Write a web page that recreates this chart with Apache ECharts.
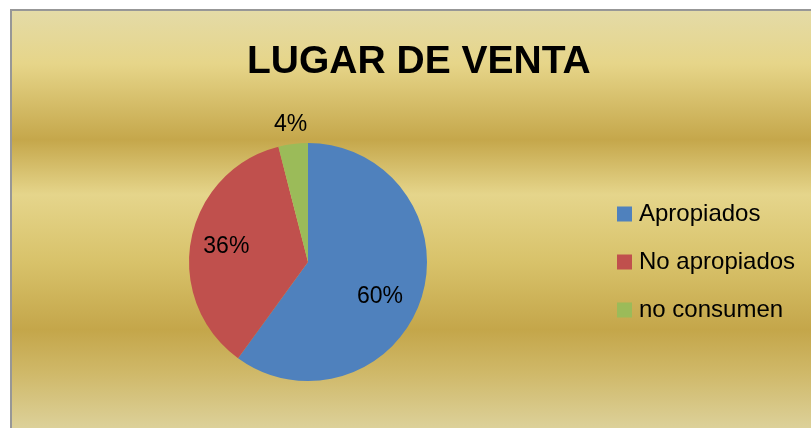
<!DOCTYPE html>
<html>
<head>
<meta charset="utf-8">
<script src="https://cdn.jsdelivr.net/npm/echarts@6/dist/echarts.min.js"></script>
<style>
  html, body { margin: 0; padding: 0; background: #fff; }
  #chart { width: 811px; height: 428px; }
</style>
</head>
<body>
<div id="chart"></div>
<script>
// datos del grafico
var categorias = ['Apropiados', 'No apropiados', 'no consumen'];
var valores = [60, 36, 4];
var colores = ['#4f81bd', '#c0504d', '#9bbb59'];

var centro = [308, 262];
var radio = 119;
// desplazamiento de las etiquetas respecto a la posicion "inside"
var factorEtiqueta = [1.28, 1.33, 2.22];
var giroEtiqueta = [7.9, 0, 0]; // grados, sentido horario

var myChart = echarts.init(document.getElementById('chart'));

var fondo = new echarts.graphic.LinearGradient(0, 0, 0, 1, [
  { offset: 0.00, color: '#e4dba8' },
  { offset: 0.13, color: '#e6d589' },
  { offset: 0.31, color: '#c5a74b' },
  { offset: 0.44, color: '#e5d58b' },
  { offset: 0.60, color: '#d8c26a' },
  { offset: 0.76, color: '#c4a64a' },
  { offset: 0.86, color: '#cfb868' },
  { offset: 1.00, color: '#ddd29c' }
]);

myChart.setOption({
  animation: false,
  color: colores,
  graphic: [{
    type: 'rect',
    z: -10,
    silent: true,
    shape: { x: 11, y: 10, width: 820, height: 420 },
    style: { fill: fondo, stroke: '#979797', lineWidth: 2 }
  }],
  title: {
    text: 'LUGAR DE VENTA',
    left: 242,
    top: 38,
    textStyle: {
      fontFamily: 'Liberation Sans',
      fontWeight: 'bold',
      fontSize: 39,
      color: '#000'
    }
  },
  legend: {
    orient: 'vertical',
    left: 617,
    top: 202,
    padding: 0,
    icon: 'rect',
    itemWidth: 15,
    itemHeight: 15,
    itemGap: 24,
    textStyle: {
      fontFamily: 'Liberation Sans',
      fontSize: 24,
      lineHeight: 24,
      color: '#000',
      padding: [0, 0, 0, 2]
    },
    data: categorias
  },
  series: [{
    type: 'pie',
    center: centro,
    radius: radio,
    startAngle: 90,
    clockwise: true,
    avoidLabelOverlap: false,
    itemStyle: { borderWidth: 0 },
    label: {
      show: true,
      position: 'inside',
      formatter: '{c}%',
      fontFamily: 'Liberation Sans',
      fontSize: 23,
      color: '#000'
    },
    labelLine: { show: false },
    labelLayout: function (params) {
      var r = params.labelRect;
      var vx = r.x + r.width / 2 - centro[0];
      var vy = r.y + r.height / 2 - centro[1];
      var f = factorEtiqueta[params.dataIndex];
      var a = giroEtiqueta[params.dataIndex] * Math.PI / 180;
      var rx = vx * Math.cos(a) - vy * Math.sin(a);
      var ry = vx * Math.sin(a) + vy * Math.cos(a);
      return {
        x: centro[0] + rx * f,
        y: centro[1] + ry * f,
        align: 'center',
        verticalAlign: 'middle'
      };
    },
    data: categorias.map(function (c, i) {
      return { name: c, value: valores[i] };
    })
  }]
});
</script>
</body>
</html>
